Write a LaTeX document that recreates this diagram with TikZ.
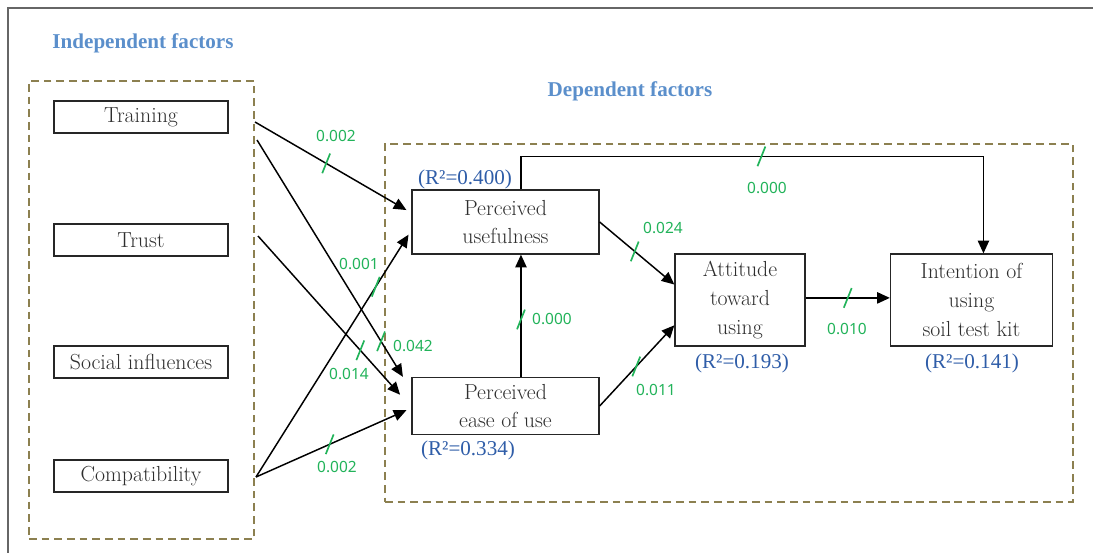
\documentclass[tikz,border=0pt]{standalone}
\usepackage{fontspec}
\usepackage{tikz}
\usetikzlibrary{arrows.meta}
\newfontfamily\serifR{Liberation Serif}
\newfontfamily\sansN{Noto Sans}
\definecolor{headblue}{HTML}{5B8FCB}
\definecolor{rblue}{HTML}{2F5DA8}
\definecolor{siggreen}{HTML}{22B35A}
\definecolor{olivebox}{HTML}{8C8050}
\newcommand{\sigtick}[1]{\draw[sigmark] ([shift={(-2.8pt,-7pt)}]#1) -- ([shift={(2.8pt,7pt)}]#1);}

\begin{document}
\begin{tikzpicture}[x=0.025cm, y=-0.025cm, >={Triangle[length=9pt,width=8pt]},
      every node/.append style={font=\fontsize{15.5}{20.5}\selectfont, text=black!82},
      factor/.style={draw=black!85, line width=0.9pt, align=center, inner sep=0pt},
      group/.style={draw=olivebox, line width=1.6pt, dash pattern=on 5.5pt off 3.5pt},
      link/.style={->, line width=1.05pt, black},
      sigmark/.style={siggreen, line width=1.2pt},
      sig/.style={font=\sansN\fontsize{11}{13}\selectfont, text=siggreen},
      rsq/.style={font=\serifR\fontsize{15}{18}\selectfont, text=rblue}]
    \tikzstyle{head} = [font=\serifR\bfseries\fontsize{15}{18}\selectfont, text=headblue]
    \useasboundingbox (0,0) rectangle (1093,553);
    \draw[black!60, line width=0.8pt] (8,553) -- (8,8) -- (1093,8);
    \node[head] (indeptitle) at (143,43) {Independent factors};
    \node[head] (deptitle) at (630,91) {Dependent factors};
    \node[group, minimum width=5.625cm, minimum height=11.45cm] (indep) at (141.5,310) {};
    \node[group, minimum width=17.2cm, minimum height=8.95cm] (dep) at (729,323) {};
    \node[factor, minimum width=4.35cm, minimum height=0.8cm] (train) at (141,117) {Training};
    \node[factor, minimum width=4.35cm, minimum height=0.8cm] (trust) at (141,240) {Trust};
    \node[factor, minimum width=4.35cm, minimum height=0.8cm] (social) at (141,362) {Social influences};
    \node[factor, minimum width=4.35cm, minimum height=0.8cm] (compat) at (141,476) {Compatibility};
    \node[factor, minimum width=4.675cm, minimum height=1.6cm] (pu) at (505.5,222) {Perceived\\usefulness};
    \node[factor, minimum width=4.675cm, minimum height=1.425cm] (peou) at (505.5,406) {Perceived\\ease of use};
    \node[factor, minimum width=3.25cm, minimum height=2.3cm] (att) at (740,300) {Attitude\\toward\\using};
    \node[factor, minimum width=4.05cm, minimum height=2.3cm] (int) at (971.5,300) {Intention of\\using\\soil test kit};
    \node[rsq] (rpu) at (465,179) {(R²=0.400)};
    \node[rsq] (rpeou) at (468,450) {(R²=0.334)};
    \node[rsq] (ratt) at (742,363) {(R²=0.193)};
    \node[rsq] (rint) at (972,363) {(R²=0.141)};
    \coordinate (s1) at (255,122);
    \coordinate (s2) at (257,140);
    \coordinate (s3) at (258,236);
    \coordinate (s4) at (256,477);
    \draw[link] (s1) -- coordinate[pos=0.47] (k1) ([xshift=-3.5pt,yshift=8.5pt]pu.west);
    \draw[link] (s4) -- coordinate[pos=0.785] (k2) ([xshift=-2pt,yshift=-9pt]pu.west);
    \draw[link] (s2) -- coordinate[pos=0.85] (k3) ([xshift=-6pt]peou.north west);
    \draw[link] (s3) -- coordinate[pos=0.72] (k4) ([xshift=-8pt,yshift=8pt]peou.west);
    \draw[link] (s4) -- coordinate[pos=0.49] (k5) ([xshift=-3.5pt,yshift=-3pt]peou.west);
    \draw[link] (pu.east) -- coordinate[pos=0.47] (k6) ([yshift=11pt]att.west);
    \draw[link] (peou.east) -- coordinate[pos=0.49] (k7) ([yshift=-18pt]att.west);
    \draw[link] ([xshift=11pt]peou.north) -- coordinate[pos=0.47] (k8) ([xshift=11pt]pu.south);
    \draw[link] ([yshift=1.5pt]att.east) -- coordinate (k9) ([yshift=1.5pt]int.west);
    \draw[link] ([xshift=11pt]pu.north) -- ++(0,-33) -| coordinate[pos=0.26] (k10) ([xshift=8.5pt]int.north);
    \foreach \k in {1,...,10} \sigtick{k\k};
    \node[sig] (v1) at (336,136) {0.002};
    \node[sig] (v2) at (359,264) {0.001};
    \node[sig] (v3) at (413,346) {0.042};
    \node[sig] (v4) at (349,374) {0.014};
    \node[sig] (v5) at (337,467) {0.002};
    \node[sig] (v6) at (663,228) {0.024};
    \node[sig] (v7) at (656,390) {0.011};
    \node[sig] (v8) at (552,319) {0.000};
    \node[sig] (v9) at (847,329) {0.010};
    \node[sig] (v10) at (767,188) {0.000};
\end{tikzpicture}
\end{document}
